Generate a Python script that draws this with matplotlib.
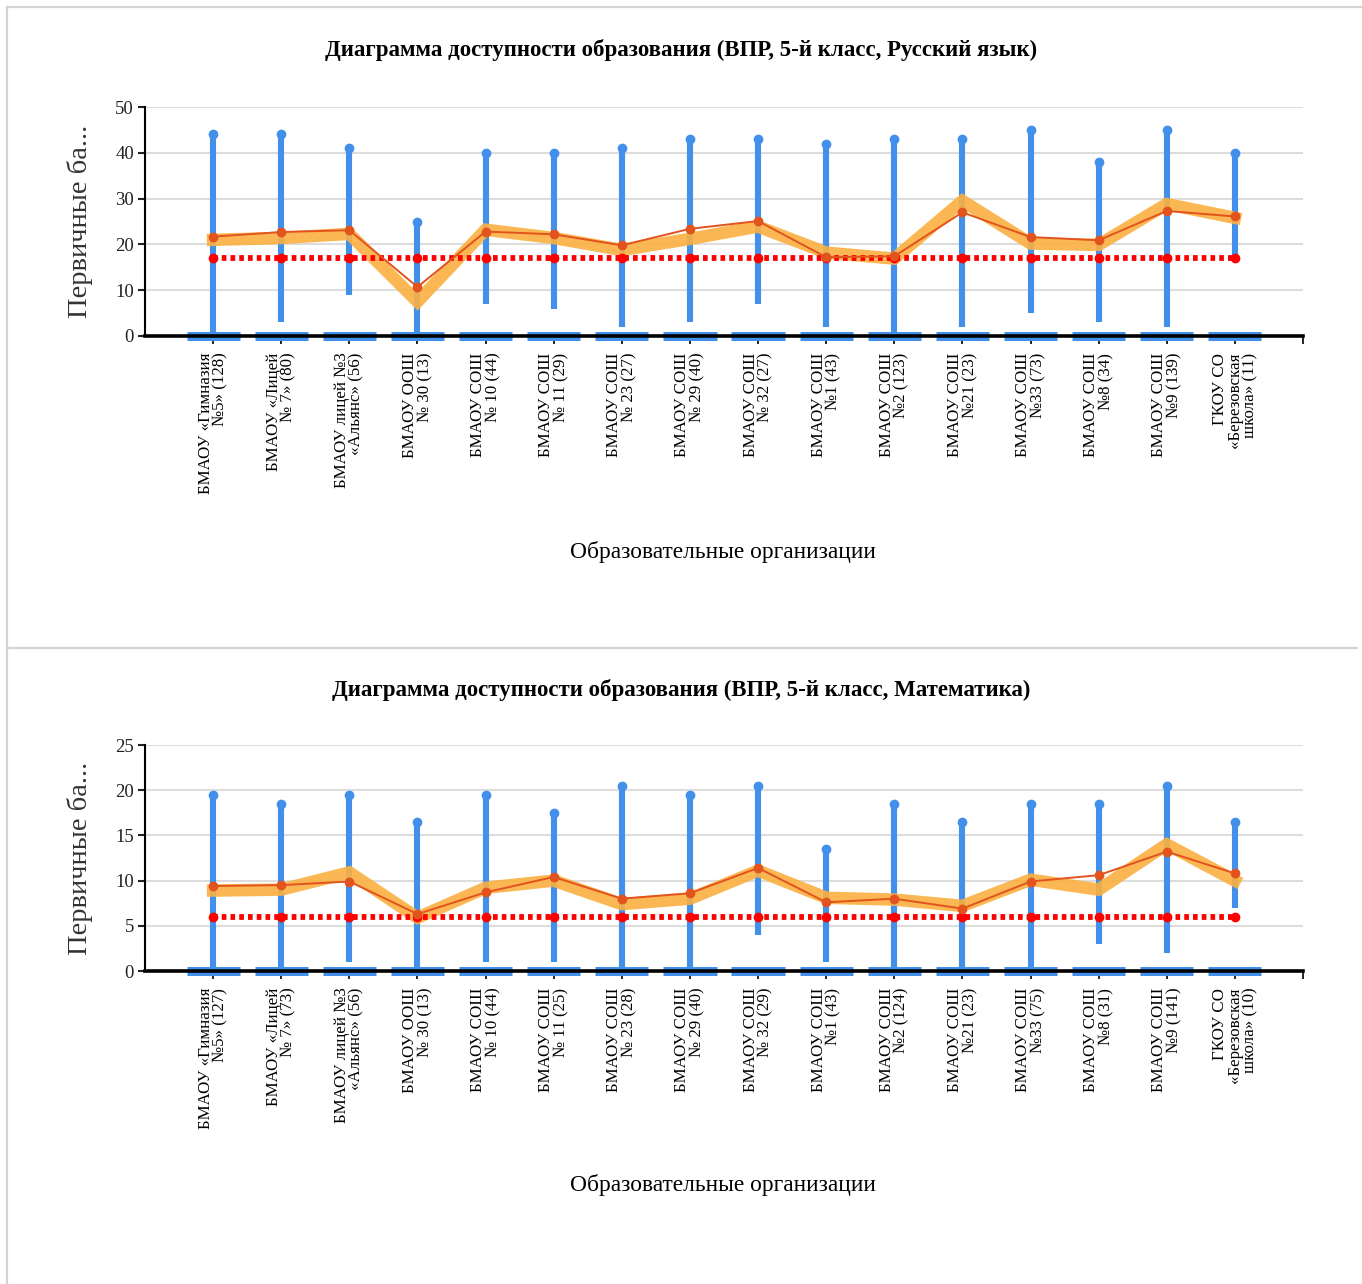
import matplotlib

matplotlib.use("Agg")
import matplotlib.pyplot as plt  # noqa: E402
from matplotlib.lines import Line2D  # noqa: E402

plt.rcParams["font.family"] = ["Liberation Serif", "DejaVu Serif"]

W, H = 1362, 1284

SCHOOLS = ["БМАОУ «Гимназия\n№5»", "БМАОУ «Лицей\n№ 7»", "БМАОУ лицей №3\n«Альянс»",
           "БМАОУ ООШ\n№ 30", "БМАОУ СОШ\n№ 10", "БМАОУ СОШ\n№ 11", "БМАОУ СОШ\n№ 23",
           "БМАОУ СОШ\n№ 29", "БМАОУ СОШ\n№ 32", "БМАОУ СОШ\n№1", "БМАОУ СОШ\n№2",
           "БМАОУ СОШ\n№21", "БМАОУ СОШ\n№33", "БМАОУ СОШ\n№8", "БМАОУ СОШ\n№9",
           "ГКОУ СО\n«Березовская\nшкола»"]

# Russian language
RUS_COUNTS = [128, 80, 56, 13, 44, 29, 27, 40, 27, 43, 123, 23, 73, 34, 139, 11]
RUS_MIN = [0, 3, 9, 0, 7, 6, 2, 3, 7, 2, 0, 2, 5, 3, 2, 17]
RUS_MAX = [44, 44, 41, 25, 40, 40, 41, 43, 43, 42, 43, 43, 45, 38, 45, 40]
RUS_MEAN = [21.7, 22.7, 23.1, 10.7, 22.8, 22.2, 19.8, 23.4, 25.1, 17.2, 17.4, 27.0,
            21.6, 20.9, 27.3, 26.1]
RUS_MUNI = [21.0, 21.4, 22.3, 7.5, 23.2, 21.4, 18.8, 21.2, 23.9, 18.2, 16.9, 29.5,
            20.2, 19.9, 28.8, 25.8]
RUS_PASS = 17

# Maths
MATH_COUNTS = [127, 73, 56, 13, 44, 25, 28, 40, 29, 43, 124, 23, 75, 31, 141, 10]
MATH_MIN = [0, 0, 1, 0, 1, 1, 0, 0, 4, 1, 0, 0, 0, 3, 2, 7]
MATH_MAX = [19.5, 18.5, 19.5, 16.5, 19.5, 17.5, 20.5, 19.5, 20.5, 13.5, 18.5, 16.5,
            18.5, 18.5, 20.5, 16.5]
MATH_MEAN = [9.4, 9.5, 9.9, 6.3, 8.7, 10.4, 8.0, 8.6, 11.4, 7.6, 8.0, 6.9, 9.9, 10.6,
             13.2, 10.8]
MATH_MUNI = [8.9, 9.0, 10.9, 5.9, 9.2, 10.0, 7.4, 8.0, 11.1, 8.1, 7.9, 7.2, 10.1, 9.0,
             14.0, 10.0]
MATH_PASS = 6

PANELS = [
    dict(title="Диаграмма доступности образования (ВПР, 5-й класс, Русский язык)",
         counts=RUS_COUNTS, lo=RUS_MIN, hi=RUS_MAX, mean=RUS_MEAN, muni=RUS_MUNI,
         passing=RUS_PASS, ymax=50, step=10, top=107, bottom=336, title_y=50, xl_y=552),
    dict(title="Диаграмма доступности образования (ВПР, 5-й класс, Математика)",
         counts=MATH_COUNTS, lo=MATH_MIN, hi=MATH_MAX, mean=MATH_MEAN, muni=MATH_MUNI,
         passing=MATH_PASS, ymax=25, step=5, top=745, bottom=971, title_y=690, xl_y=1185),
]

BLUE = "#4390EA"
ORANGE = "#FBB040"
RED_LINE = "#E2531E"
RED = "#FF0000"

fig = plt.figure(figsize=(W / 100, H / 100), dpi=100, facecolor="white")

for p in PANELS:
    n = len(SCHOOLS)
    xs = list(range(n))
    ax = fig.add_axes([145 / W, 1 - p["bottom"] / H, 1158 / W, (p["bottom"] - p["top"]) / H])

    ax.vlines(xs, p["lo"], p["hi"], color=BLUE, lw=4.4, zorder=2)
    ax.plot(xs, p["hi"], "o", color=BLUE, ms=6, zorder=2)
    # width bands sitting on the zero line
    ax.hlines([0] * n, [x - 0.39 for x in xs], [x + 0.39 for x in xs],
              color=BLUE, lw=6.5, zorder=2.4, clip_on=False)

    ax.plot(xs, p["muni"], color=ORANGE, lw=9, alpha=0.9, solid_joinstyle="miter",
            zorder=3)
    ax.plot(xs, [p["passing"]] * n, color=RED, lw=4.2, dashes=(0.8, 0.7),
            marker="o", ms=6, zorder=4)
    ax.plot(xs, p["mean"], color=RED_LINE, lw=1.4, marker="o", ms=6, zorder=5)

    ax.set_xlim(-1, n)
    ax.set_ylim(0, p["ymax"])
    ax.set_yticks(range(0, p["ymax"] + 1, p["step"]))
    ax.yaxis.grid(True, color="#dddddd", lw=1.5)
    ax.set_axisbelow(True)
    ax.set_xticks(xs)
    ax.set_xticks([n], minor=True)
    ax.set_xticklabels([f"{s} ({c})" for s, c in zip(SCHOOLS, p["counts"])],
                       rotation=90, fontsize=12.2, va="top", ha="center",
                       multialignment="right", linespacing=0.92)
    ax.tick_params(axis="x", which="both", length=6, width=1.2, pad=6, color="black")
    ax.tick_params(axis="y", length=5, width=1.5, labelsize=13.5, pad=3, colors="#222222")
    for side in ["top", "right"]:
        ax.spines[side].set_visible(False)
    ax.spines["left"].set_linewidth(1.5)
    ax.spines["bottom"].set_linewidth(2.6)

    fig.text(681 / W, 1 - p["title_y"] / H, p["title"], ha="center", va="center",
             fontsize=16.5, fontweight="bold")
    fig.text(80 / W, 1 - (p["top"] + p["bottom"]) / 2 / H, "Первичные ба...",
             rotation=90, ha="center", va="center", fontsize=20.5, color="#333333")
    fig.text(723 / W, 1 - p["xl_y"] / H, "Образовательные организации",
             ha="center", va="center", fontsize=16.8)

# frame of the two chart blocks
for xd, yd in [([7, 7], [7, H]), ([7, W], [7, 7]), ([7, 1357], [648, 648])]:
    fig.add_artist(Line2D([x / W for x in xd], [1 - y / H for y in yd],
                          color="#d4d4d4", lw=1.6))

fig.savefig("out.png", dpi=100, facecolor="white")
